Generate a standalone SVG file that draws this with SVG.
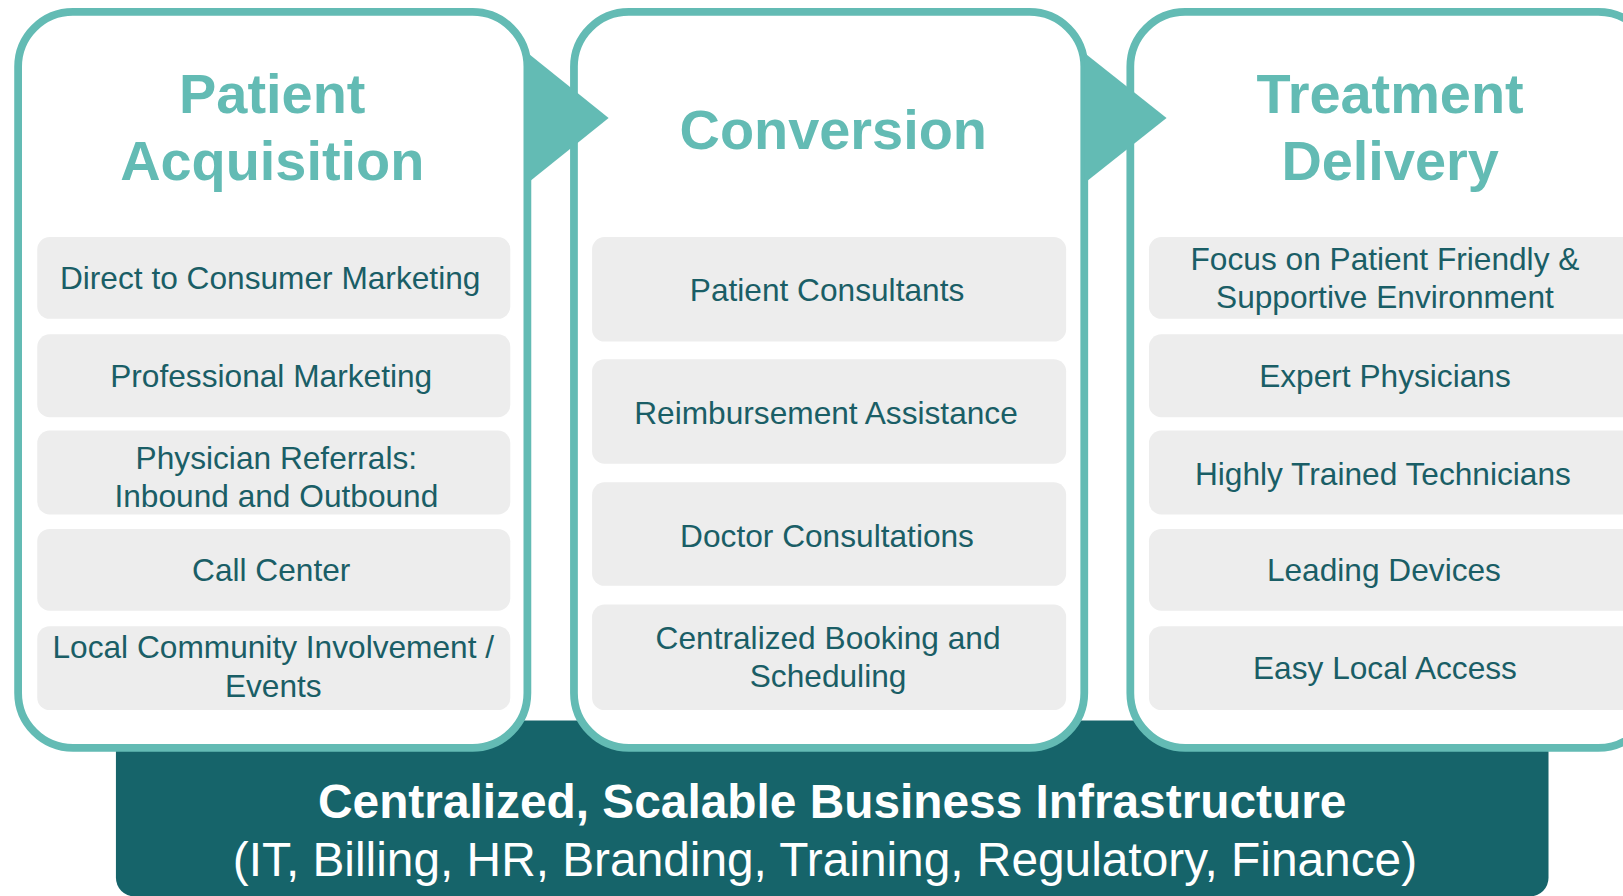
<svg xmlns="http://www.w3.org/2000/svg" width="1623" height="896" viewBox="0 0 1623 896">
<style>
.panel{fill:#ffffff;stroke:#63bbb4;stroke-width:7.5}
.item{fill:#ededed}
.title{font-family:"Liberation Sans",Arial,sans-serif;font-weight:bold;font-size:54px;fill:#63bbb4;text-anchor:middle}
.itxt{font-family:"Liberation Sans",Arial,sans-serif;font-size:30.6px;fill:#1a5e66;text-anchor:middle}
.btxt{font-family:"Liberation Sans",Arial,sans-serif;font-size:46.2px;fill:#ffffff;text-anchor:middle}
.arrow{fill:#63bbb4}
</style>
<rect width="1623" height="896" fill="#ffffff"/>
<g transform="scale(1.0351)">
<g id="infrastructure">
<rect x="112" y="696" width="1384" height="170" rx="18" fill="#16646a"/>
<text class="btxt" x="804" y="790" font-weight="bold">Centralized, Scalable Business Infrastructure</text>
<text class="btxt" x="797" y="846">(IT, Billing, HR, Branding, Training, Regulatory, Finance)</text>
</g>
<g id="patient-acquisition">
<rect class="panel" x="17.5" y="11.5" width="492" height="711" rx="53"/>
<text class="title" x="263" y="109">Patient</text>
<text class="title" x="263" y="174">Acquisition</text>
<rect class="item" x="36" y="229" width="457" height="79" rx="12"/>
<text class="itxt" x="261" y="279">Direct to Consumer Marketing</text>
<rect class="item" x="36" y="323" width="457" height="80" rx="12"/>
<text class="itxt" x="262" y="374">Professional Marketing</text>
<rect class="item" x="36" y="416" width="457" height="81" rx="12"/>
<text class="itxt" x="267" y="453">Physician Referrals:</text>
<text class="itxt" x="267" y="490">Inbound and Outbound</text>
<rect class="item" x="36" y="511" width="457" height="79" rx="12"/>
<text class="itxt" x="262" y="561">Call Center</text>
<rect class="item" x="36" y="605" width="457" height="81" rx="12"/>
<text class="itxt" x="264" y="636">Local Community Involvement /</text>
<text class="itxt" x="264" y="673">Events</text>
</g>
<g id="conversion">
<rect class="panel" x="554.5" y="11.5" width="493" height="711" rx="53"/>
<text class="title" x="805" y="144">Conversion</text>
<rect class="item" x="572" y="229" width="458" height="101" rx="12"/>
<text class="itxt" x="799" y="291">Patient Consultants</text>
<rect class="item" x="572" y="347" width="458" height="101" rx="12"/>
<text class="itxt" x="798" y="410">Reimbursement Assistance</text>
<rect class="item" x="572" y="466" width="458" height="100" rx="12"/>
<text class="itxt" x="799" y="528">Doctor Consultations</text>
<rect class="item" x="572" y="584" width="458" height="102" rx="12"/>
<text class="itxt" x="800" y="627">Centralized Booking and</text>
<text class="itxt" x="800" y="664">Scheduling</text>
</g>
<g id="treatment-delivery">
<rect class="panel" x="1092" y="11.5" width="505" height="711" rx="53"/>
<text class="title" x="1343" y="109">Treatment</text>
<text class="title" x="1343" y="174">Delivery</text>
<rect class="item" x="1110" y="229" width="470" height="79" rx="12"/>
<text class="itxt" x="1338" y="261">Focus on Patient Friendly &amp;</text>
<text class="itxt" x="1338" y="298">Supportive Environment</text>
<rect class="item" x="1110" y="323" width="470" height="80" rx="12"/>
<text class="itxt" x="1338" y="374">Expert Physicians</text>
<rect class="item" x="1110" y="416" width="470" height="81" rx="12"/>
<text class="itxt" x="1336" y="469">Highly Trained Technicians</text>
<rect class="item" x="1110" y="511" width="470" height="79" rx="12"/>
<text class="itxt" x="1337" y="561">Leading Devices</text>
<rect class="item" x="1110" y="605" width="470" height="81" rx="12"/>
<text class="itxt" x="1338" y="656">Easy Local Access</text>
</g>
<g id="connectors">
<polygon class="arrow" points="509.5,51 588,114 509.5,177"/>
<polygon class="arrow" points="1047.5,51 1127,114 1047.5,177"/>
</g>
</g>
</svg>
